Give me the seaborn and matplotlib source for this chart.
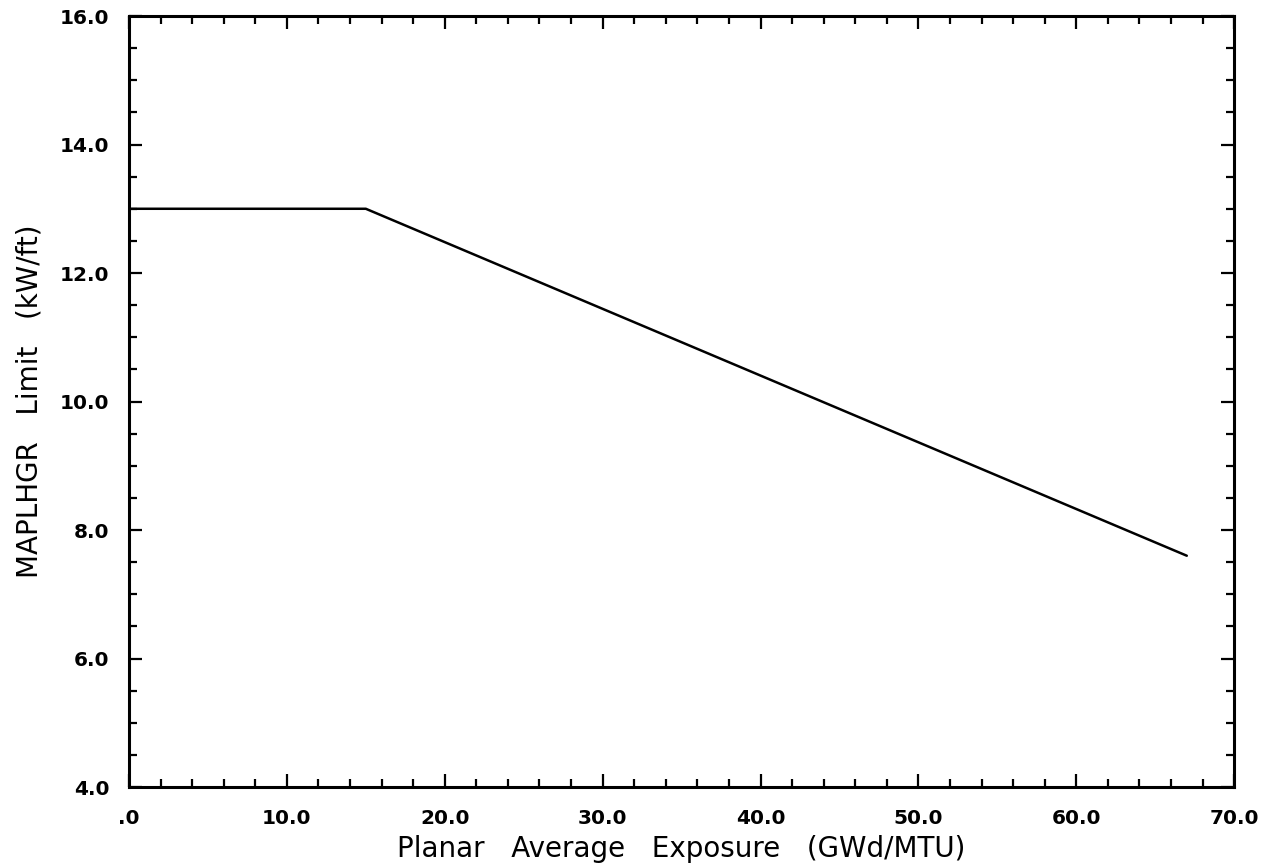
import matplotlib
matplotlib.use("Agg")
import matplotlib.pyplot as plt
from matplotlib.ticker import MultipleLocator, FuncFormatter
import seaborn as sns
import pandas as pd

# MAPLHGR limit versus planar average exposure
exposure = [0.0, 15.0, 67.0]          # GWd/MTU
maplhgr_limit = [13.0, 13.0, 7.6]     # kW/ft

sns.set_style("ticks")
plt.rcParams["font.family"] = ["DejaVu Sans"]
plt.rcParams["text.color"] = "black"
plt.rcParams["axes.labelcolor"] = "black"
plt.rcParams["xtick.color"] = "black"
plt.rcParams["ytick.color"] = "black"

df = pd.DataFrame({"exposure": exposure, "limit": maplhgr_limit})

fig = plt.figure(figsize=(12.71, 8.66), dpi=100)
ax = fig.add_axes([0.1015, 0.0912, 0.8695, 0.8903])

sns.lineplot(data=df, x="exposure", y="limit", ax=ax, color="black",
             linewidth=1.8, estimator=None, sort=False)

ax.set_xlim(0, 70)
ax.set_ylim(4, 16)
ax.xaxis.set_major_locator(MultipleLocator(10))
ax.xaxis.set_minor_locator(MultipleLocator(2))
ax.yaxis.set_major_locator(MultipleLocator(2))
ax.yaxis.set_minor_locator(MultipleLocator(0.5))


def fmt(v, pos):
    s = f"{v:.1f}"
    return s[1:] if s.startswith("0") else s


ax.xaxis.set_major_formatter(FuncFormatter(fmt))
ax.yaxis.set_major_formatter(FuncFormatter(fmt))

ax.tick_params(which="both", direction="in", top=True, right=True,
               color="black", width=1.6, labelcolor="black")
ax.tick_params(which="major", length=9.5, labelsize=14.5)
ax.tick_params(which="minor", length=5.5)
ax.tick_params(axis="x", which="major", pad=16)
ax.tick_params(axis="y", which="major", pad=14)
for lab in ax.get_xticklabels() + ax.get_yticklabels():
    lab.set_fontweight("bold")

for sp in ax.spines.values():
    sp.set_linewidth(2.2)
    sp.set_color("black")

ax.set_xlabel("Planar   Average   Exposure   (GWd/MTU)", fontsize=20,
              labelpad=5)
ax.set_ylabel("MAPLHGR   Limit   (kW/ft)", fontsize=20, labelpad=12)

fig.savefig("out.png", dpi=100, facecolor="white")
